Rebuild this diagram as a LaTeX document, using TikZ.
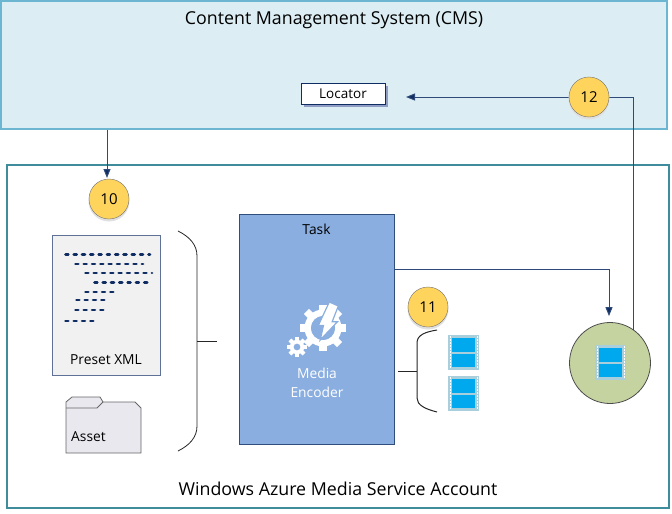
\documentclass[tikz,border=0pt]{standalone}
\usepackage{fontspec}
\setmainfont{Open Sans}
\usetikzlibrary{arrows.meta}
\definecolor{cmsfill}{HTML}{DCEEF4}
\definecolor{cmsline}{HTML}{6DB6D2}
\definecolor{acct}{HTML}{3E8C9C}
\definecolor{navy}{HTML}{0F2D62}
\definecolor{linkline}{HTML}{2F4A78}
\definecolor{badge}{HTML}{FFD45C}
\definecolor{taskfill}{HTML}{8AAEE0}
\definecolor{taskline}{HTML}{2F4E7E}
\definecolor{docfill}{HTML}{F1F1F1}
\definecolor{docline}{HTML}{5F7196}
\definecolor{folder}{HTML}{E8E8EE}
\definecolor{filmedge}{HTML}{A9CFDD}
\definecolor{filmblue}{HTML}{00A8EE}
\definecolor{disc}{HTML}{C5D3A0}
\definecolor{locshadow}{HTML}{8F9CC4}
\tikzset{
  x=1pt,y=-1pt,
  conn/.style={linkline,line width=1pt},
  arr/.style={conn,-{Triangle[length=9pt,width=7pt,fill=navy]}},
  badgenode/.style={circle,draw=black!55,fill=badge,minimum size=40pt,inner sep=0pt,font=\fontsize{15}{17}\selectfont},
  badgeshadow/.style={fill=black!12},
  brace/.style={black!85,line width=0.8pt},
  bigtext/.style={font=\fontsize{17.8}{21}\selectfont,inner sep=0pt},
  smalltext/.style={font=\fontsize{13.8}{16}\selectfont,inner sep=0pt},
  codeline/.style={navy,line width=2.8pt,line cap=round,dash pattern=on 2.8pt off 5.5pt},
}
\newcommand{\filmicon}[2]{%
  \fill[filmedge] (#1,#2) rectangle ++(31,35);
  \fill[filmblue] (#1+4,#2+3) rectangle ++(23,13.5);
  \fill[filmblue] (#1+4,#2+18.5) rectangle ++(23,13.5);
  \draw[white,line width=0.4pt,dash pattern=on 1.5pt off 1.5pt] (#1+1.7,#2+1) -- ++(0,33) (#1+29.3,#2+1) -- ++(0,33);
}
\newcommand{\cogwheel}[5]{% x y hole body-width tooth-scale teeth
  \fill[white,even odd rule] (#1,#2) circle (#3+#4) (#1,#2) circle (#3);
  \foreach \k in {1,...,#5}{
    \fill[white,rotate around={360/#5*\k:(#1,#2)}] (#1-#4*0.55,#2-#3-#4*1.75) rectangle (#1+#4*0.55,#2-#3-#4*0.5);
  }
}
\begin{document}
\begin{tikzpicture}
\useasboundingbox (0,0) rectangle (672,514);
% containers
\node[draw=cmsline,fill=cmsfill,line width=1.2pt,minimum width=666pt,minimum height=128pt,inner sep=0pt] (cms) at (334,65) {};
\node[draw=acct,fill=white,line width=1.5pt,minimum width=662pt,minimum height=343pt,inner sep=0pt] (account) at (338,336.5) {};
\node[bigtext] (cmstitle) at (334,20) {Content Management System (CMS)};
\node[bigtext] (accttitle) at (338,489) {Windows Azure Media Service Account};
% locator
\node[draw=none,fill=locshadow,minimum width=84pt,minimum height=21pt,inner sep=0pt] (locshade) at (345.5,96) {};
\node[draw=navy,fill=white,line width=1pt,minimum width=84pt,minimum height=21pt,inner sep=0pt,font=\fontsize{13.5}{15}\selectfont] (locator) at (343,93.5) {Locator};
\coordinate (locin) at (406,97);
% task
\node[draw=taskline,fill=taskfill,line width=1pt,minimum width=155pt,minimum height=230pt,inner sep=0pt] (task) at (316.5,329) {};
\node[smalltext] (tasklabel) at (316.5,229) {Task};
\cogwheel{323}{328}{12}{6.5}{8}
\fill[taskfill] (323,328) circle (12);
\fill[white,draw=taskfill,line width=1.2pt] (329.3,302) -- (338.3,306) -- (332.2,321.7) -- (337.5,321.7) -- (320.2,340) -- (323.5,325.5) -- (318.3,325.5) -- cycle;
\cogwheel{297}{347}{3.5}{3.7}{8}
\node[font=\fontsize{13.8}{19}\selectfont,white,align=center,inner sep=0pt] (encoder) at (317,383) {Media\\Encoder};
% preset doc
\node[draw=docline,fill=docfill,line width=1pt,minimum width=108pt,minimum height=140pt,inner sep=0pt] (preset) at (106,305) {};
\draw[codeline] (65.5,254.7) -- (150,254.7);
\draw[codeline] (75.5,264) -- (143,264);
\draw[codeline] (85.5,273) -- (152,273);
\draw[codeline] (94.5,282.5) -- (150,282.5);
\draw[codeline] (85.5,292) -- (117,292);
\draw[codeline] (76.5,300) -- (108,300);
\draw[codeline] (75.5,310) -- (106,310);
\draw[codeline] (65.5,321) -- (97,321);
\node[smalltext] (presetlabel) at (106,360) {Preset XML};
% asset folder
\draw[black!60,fill=folder,line width=0.8pt] (66,408) -- (66,453) -- (141,453) -- (141,408) -- (135,402) -- (103,402) -- (100,397) -- (72,397) -- (66,402) -- cycle;
\draw[black!60,line width=0.8pt] (66,408) -- (97,408) -- (103,402);
\node[smalltext,anchor=west] (assetlabel) at (71,437) {Asset};
% brace left
\coordinate (b1top) at (178,231);
\coordinate (b1bot) at (178,451);
\coordinate (b1mid) at (197,341);
\coordinate (b1tick) at (217,341);
\draw[brace] (b1top) .. controls (190,237) and (197,245) .. (197,256) -- (b1mid) -- (197,426) .. controls (197,437) and (190,445) .. (b1bot);
\draw[brace] (b1mid) -- (b1tick);
% brace right
\coordinate (b2top) at (437,330);
\coordinate (b2bot) at (437,412);
\coordinate (b2mid) at (417,371);
\coordinate (b2tick) at (398,371);
\draw[brace,line width=1pt] (b2top) .. controls (425,332) and (417,335) .. (417,343) -- (b2mid) -- (417,398) .. controls (417,405) and (425,409) .. (b2bot);
\draw[brace,line width=1pt] (b2tick) -- (b2mid);
% films
\filmicon{448}{335}
\filmicon{448}{376}
% output disc
\node[circle,draw=black!70,fill=disc,line width=0.8pt,minimum size=81pt,inner sep=0pt] (output) at (610,363) {};
\filmicon{595}{345}
% connectors
\draw[arr] (cms.south -| 107,0) -- (107,178);
\draw[arr,shorten >=6pt] (task.east |- 0,269) -| (output.north -| 609,0);
\draw[arr] (output.55) |- (locin);
% badges
\fill[badgeshadow] (109,201) circle (20.5);
\fill[badgeshadow] (428,309) circle (20.5);
\fill[badgeshadow] (589,99) circle (20.5);
\node[badgenode] (b10) at (109,199) {10};
\node[badgenode] (b11) at (428,307) {11};
\node[badgenode] (b12) at (589,97) {12};
\end{tikzpicture}
\end{document}
